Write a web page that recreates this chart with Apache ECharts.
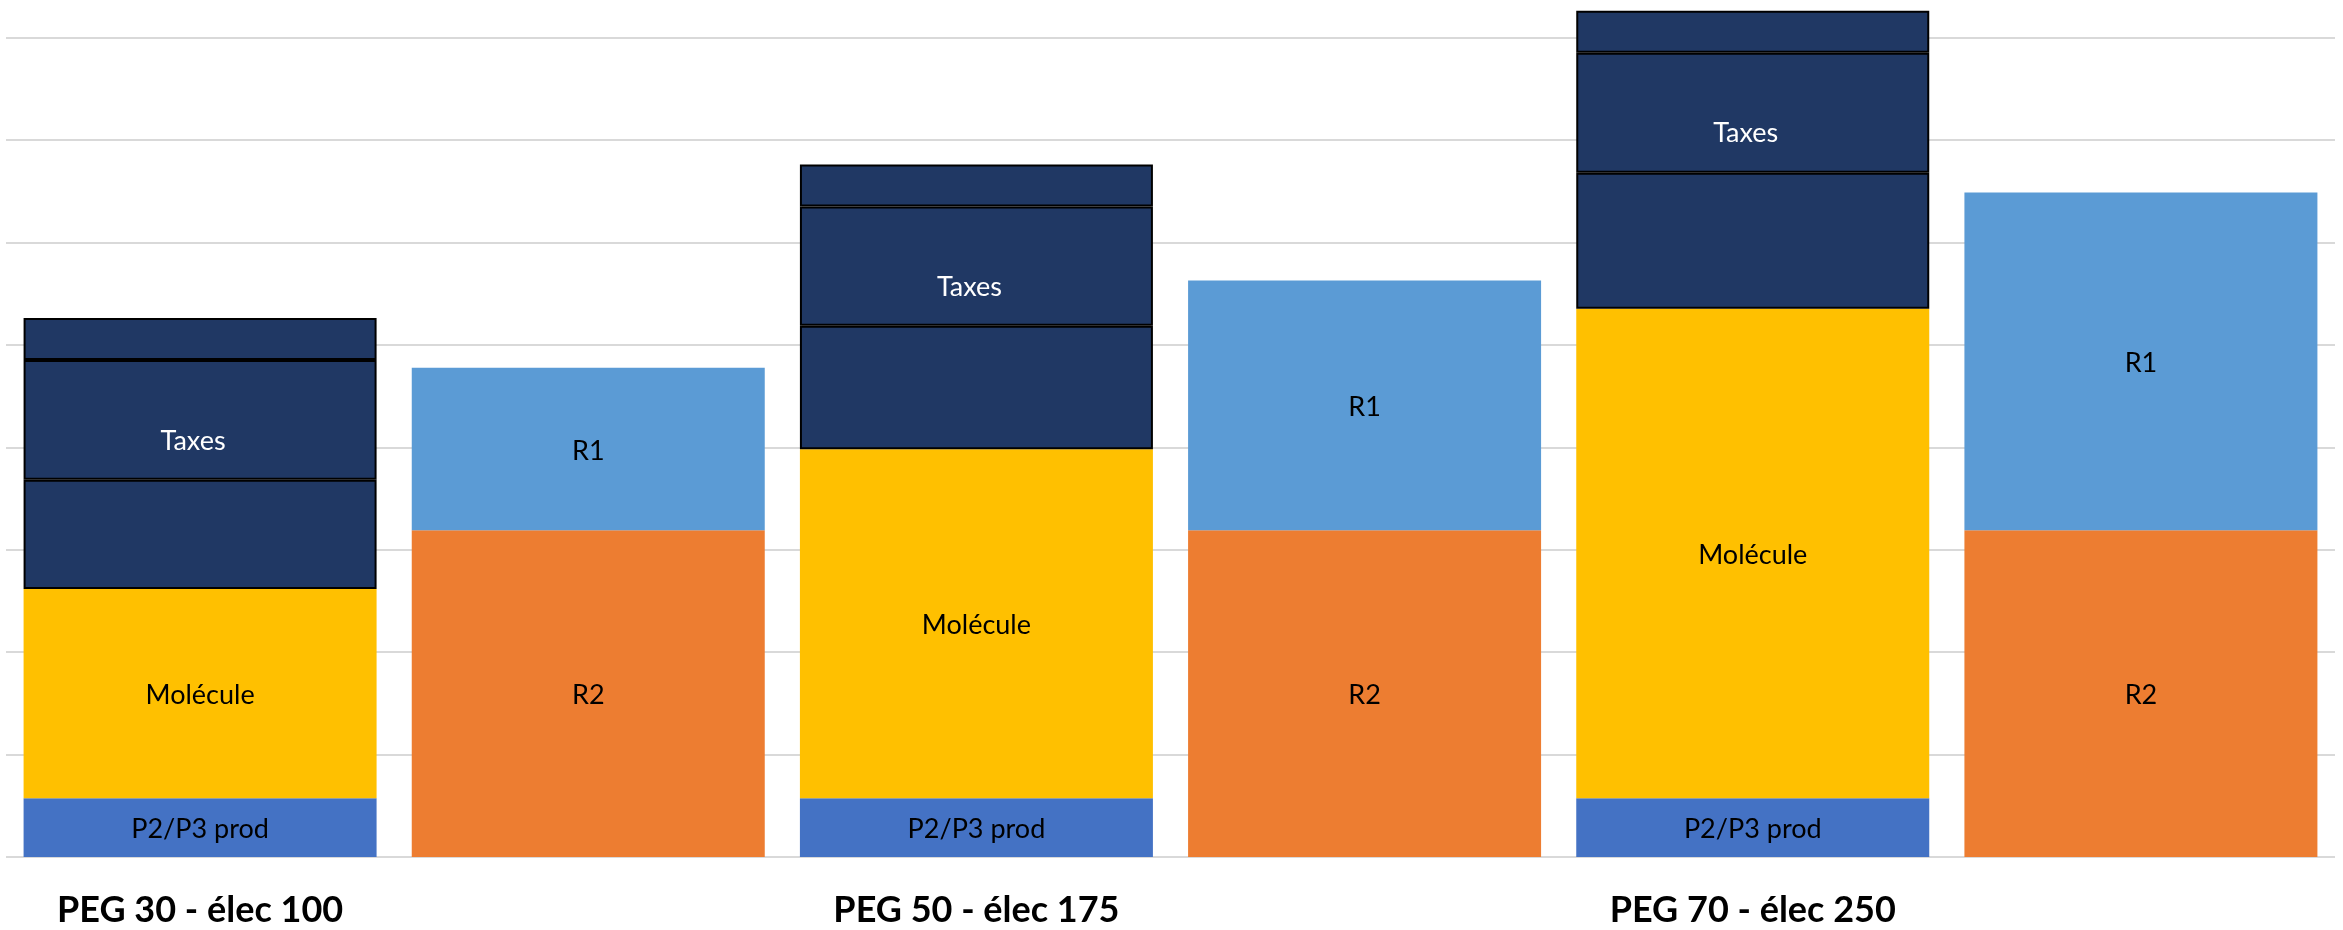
<!DOCTYPE html>
<html>
<head>
<meta charset="utf-8">
<script src="https://cdn.jsdelivr.net/npm/echarts@6/dist/echarts.min.js"></script>
<style>
html,body{margin:0;padding:0;background:#fff;}
#chart{width:2343px;height:930px;}
</style>
</head>
<body>
<div id="chart"></div>
<script>
// Data (arbitrary units; gridline step = 10)
const groups = ['PEG 30 - élec 100', 'PEG 50 - élec 175', 'PEG 70 - élec 250'];
const p2p3Prod = [5.73, 5.73, 5.73];
const molecule = [20.44, 34.1, 47.8];
const taxesLow = [10.66, 12.05, 13.3];
const taxesMid = [11.7, 11.64, 11.7];
const taxesTop = [4.11, 4.11, 4.11];
const r2 = [31.9, 31.9, 31.9];
const r1 = [15.87, 24.4, 33.0];

// Each group has two bars: the cost bar (left) and the R2/R1 bar (right)
const categories = [];
groups.forEach(g => { categories.push(g); categories.push(' '); });
const leftOnly = arr => { const o = []; arr.forEach(v => { o.push(v); o.push(null); }); return o; };
const rightOnly = arr => { const o = []; arr.forEach(v => { o.push(null); o.push(v); }); return o; };

const FONT = 'Lato';
const inLabel = (color, offset) => ({
  show: true,
  position: 'inside',
  formatter: p => p.seriesName,
  color: color,
  fontFamily: FONT,
  fontSize: 27,
  offset: offset || [0, 2]
});

const chart = echarts.init(document.getElementById('chart'), null, {renderer: 'canvas'});
chart.setOption({
  animation: false,
  backgroundColor: '#ffffff',
  grid: { left: 6, right: 8, top: 0, bottom: 73, containLabel: false },
  xAxis: {
    type: 'category',
    data: categories,
    axisLine: { show: false },
    axisTick: { show: false },
    axisLabel: {
      interval: 0,
      margin: 35,
      color: '#000',
      fontFamily: FONT,
      fontWeight: 'bold',
      fontSize: 36
    }
  },
  yAxis: {
    type: 'value',
    min: 0, max: 83.69, interval: 10,
    axisLabel: { show: false },
    axisLine: { show: false },
    axisTick: { show: false },
    splitLine: { showMaxLine: false, lineStyle: { color: '#D9D9D9', width: 2 } }
  },
  series: [
    { name: 'P2/P3 prod', type: 'bar', stack: 's', barWidth: 353, data: leftOnly(p2p3Prod),
      itemStyle: { color: '#4472C4' }, label: inLabel('#000') },
    { name: 'Molécule', type: 'bar', stack: 's', data: leftOnly(molecule),
      itemStyle: { color: '#FFC000' }, label: inLabel('#000') },
    { name: 'Taxes bas', type: 'bar', stack: 's', data: leftOnly(taxesLow),
      itemStyle: { color: '#203864', borderColor: '#000', borderWidth: 2 }, label: { show: false } },
    { name: 'Taxes', type: 'bar', stack: 's', data: leftOnly(taxesMid),
      itemStyle: { color: '#203864', borderColor: '#000', borderWidth: 2 }, label: inLabel('#fff', [-7, 21]) },
    { name: 'Taxes haut', type: 'bar', stack: 's', data: leftOnly(taxesTop),
      itemStyle: { color: '#203864', borderColor: '#000', borderWidth: 2 }, label: { show: false } },
    { name: 'R2', type: 'bar', stack: 's', data: rightOnly(r2),
      itemStyle: { color: '#ED7D31' }, label: inLabel('#000') },
    { name: 'R1', type: 'bar', stack: 's', data: rightOnly(r1),
      itemStyle: { color: '#5B9BD5' }, label: inLabel('#000') }
  ]
});
</script>
</body>
</html>
